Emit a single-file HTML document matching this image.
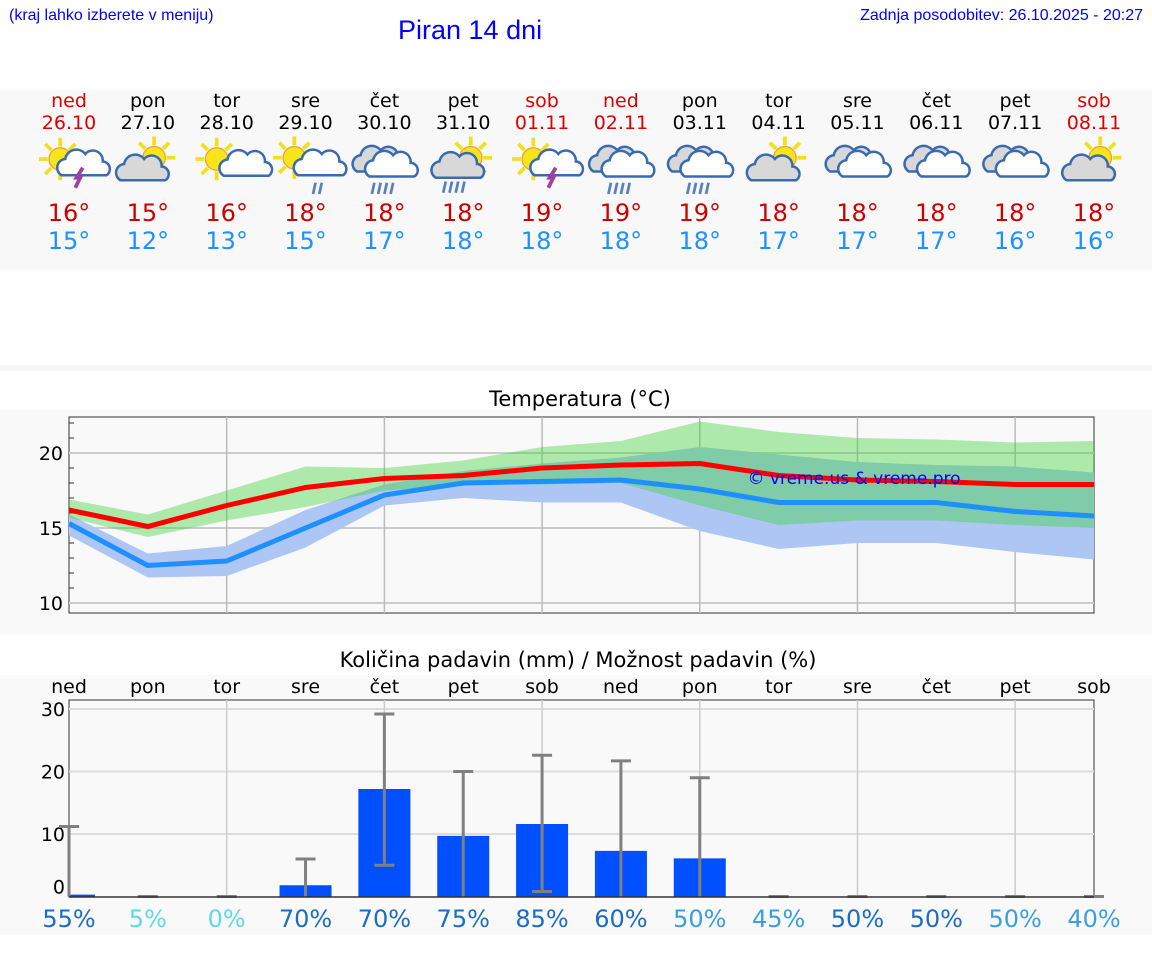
<!DOCTYPE html>
<html><head><meta charset="utf-8"><style>
body{margin:0;width:1152px;height:975px;background:#fff;font-family:"DejaVu Sans","Liberation Sans",sans-serif;position:relative;overflow:hidden}
.a{position:absolute}
</style></head><body>
<div class="a" style="left:9px;top:7px;font-size:16px;color:#00f;font-family:'Liberation Sans',sans-serif">(kraj lahko izberete v meniju)</div>
<div class="a" style="left:398px;top:15px;font-size:27px;color:#00f;font-family:'Liberation Sans',sans-serif">Piran 14 dni</div>
<div class="a" style="right:9px;top:7px;font-size:16px;color:#00f;font-family:'Liberation Sans',sans-serif">Zadnja posodobitev: 26.10.2025 - 20:27</div>
<div class="a" style="left:0;top:90px;width:1152px;height:180px;background:#f8f8f8"></div>
<div class="a" style="left:0;top:365px;width:1152px;height:6px;background:#f6f6f6"></div>
<div class="a" style="left:0;top:410px;width:1152px;height:225px;background:#f9f9f9"></div>
<div class="a" style="left:0;top:675px;width:1152px;height:260px;background:#f9f9f9"></div>
<div class="a" style="left:0;width:1160px;top:387px;text-align:center;font-size:21px">Temperatura (°C)</div>
<div class="a" style="left:0;width:1156px;top:648px;text-align:center;font-size:21px">Količina padavin (mm) / Možnost padavin (%)</div>
<svg class="a" style="left:0;top:0" width="1152" height="975" id="svg"></svg>
<script>
const days=["ned","pon","tor","sre","čet","pet","sob","ned","pon","tor","sre","čet","pet","sob"];
const dates=["26.10","27.10","28.10","29.10","30.10","31.10","01.11","02.11","03.11","04.11","05.11","06.11","07.11","08.11"];
const icons=["tstorm","pcloud","pcloud2","rainsun","rain","rainsun2","tstorm2","rain","rain","pcloud","cloud","cloud","cloud","pcloud"];
const hiTemps=[16,15,16,18,18,18,19,19,19,18,18,18,18,18];
const loTemps=[15,12,13,15,17,18,18,18,18,17,17,17,16,16];
const tMax=[16.2,15.1,16.5,17.7,18.3,18.5,19.0,19.2,19.3,18.5,18.2,18.1,17.9,17.9];
const tMaxHi=[16.9,15.9,17.5,19.1,19.0,19.5,20.4,20.8,22.1,21.4,21.0,20.9,20.7,20.8];
const tMaxLo=[15.7,14.4,15.5,16.4,17.5,17.9,17.9,18.0,16.5,15.2,15.5,15.5,15.2,15.0];
const tMin=[15.3,12.5,12.8,15.0,17.2,18.0,18.1,18.2,17.6,16.7,16.7,16.7,16.1,15.8];
const tMinHi=[15.9,13.3,13.8,16.2,17.9,18.8,19.3,19.7,20.4,19.9,19.4,19.2,19.1,18.7];
const tMinLo=[14.5,11.7,11.8,13.7,16.5,17.0,16.7,16.7,14.8,13.6,14.0,14.0,13.4,12.9];
const tTicks=[10,15,20];
const precip=[0.3,0,0,1.8,17.2,9.7,11.6,7.3,6.1,0,0,0,0,0];
const errLo=[0,0,0,0,5,0,0.8,0,0,0,0,0,0,0];
const errHi=[11.2,0,0,6,29.2,20,22.6,21.7,19,0,0,0,0,0];
const pTicks=[0,10,20,30];
const probs=[55,5,0,70,70,75,85,60,50,45,50,50,50,40];
const probDark=[1,0,0,1,1,1,1,1,0,0,1,1,0,0];
const svg=document.getElementById('svg');const NS='http://www.w3.org/2000/svg';
function mk(t,at,p){const e=document.createElementNS(NS,t);for(const k in at)e.setAttribute(k,at[k]);(p||svg).appendChild(e);return e;}
const X=i=>69+i*(1094-69)/13;
const TY=v=>453-(v-20)*15;
const PY=v=>896.5-v*6.25;
days.forEach((d,i)=>{const red=(d==="ned"||d==="sob");
 let t=mk('text',{x:X(i),y:107,'text-anchor':'middle','font-size':19,fill:red?'#d00':'#000'});t.textContent=d;
 
 t=mk('text',{x:X(i),y:129,'text-anchor':'middle','font-size':19,fill:red?'#d00':'#000'});t.textContent=dates[i];
 
 t=mk('text',{x:X(i),y:221,'text-anchor':'middle','font-size':24,fill:'#c00'});t.textContent=hiTemps[i]+'°';
 
 t=mk('text',{x:X(i),y:249,'text-anchor':'middle','font-size':24,fill:'#1e90ff'});t.textContent=loTemps[i]+'°';
 
 const g=mk('g',{transform:`translate(${X(i)},164) scale(1.25)`});
 
 const ic=icons[i];
 const sun=(cx,cy)=>{for(let k=0;k<8;k++){const a=k*Math.PI/4;mk('line',{x1:cx+Math.cos(a)*10,y1:cy+Math.sin(a)*10,x2:cx+Math.cos(a)*17,y2:cy+Math.sin(a)*17,stroke:'#f0e020','stroke-width':3},g);}mk('circle',{cx,cy,r:9,fill:'#f5e51a',stroke:'#f0a030','stroke-width':1},g);};
 const cloud=(cx,cy,s,fill)=>{mk('path',{d:`M${cx-18*s},${cy+8*s} a7 7 0 0 1 3,-13 a9 9 0 0 1 16,-4 a8 8 0 0 1 14,6 a6 6 0 0 1 3,11 z`,fill:fill,stroke:'#3a6ab0','stroke-width':2},g);};
 const rain=(cx,cy,n)=>{for(let k=0;k<n;k++)mk('line',{x1:cx+k*5,y1:cy,x2:cx+k*5-2,y2:cy+9,stroke:'#5a80c0','stroke-width':2.2},g);};
 if(ic==='tstorm'||ic==='tstorm2'){sun(-7,-4);cloud(12,1,1,'#fff');mk('path',{d:'M11,3 L6,11 L9,11 L5,19',stroke:'#a040a0','stroke-width':3,fill:'none'},g);}
 else if(ic==='pcloud'){sun(5,-5);cloud(-4,5,1,'#d8d8d8');}
 else if(ic==='pcloud2'){sun(-8,-4);cloud(12,3,0.8,'#fff');}
 else if(ic==='rainsun'){sun(-9,-5);cloud(12,1,1,'#fff');rain(8,15,2);}
 else if(ic==='rainsun2'){sun(6,-5);cloud(-4,3,1,'#d8d8d8');rain(-14,14,4);}
 else if(ic==='rain'){cloud(-4,-2,1,'#d8d8d8');cloud(6,2,1,'#fff');rain(-8,15,4);}
 else {cloud(-4,-2,1,'#d8d8d8');cloud(6,2,1,'#fff');}
});
mk('rect',{x:69,y:417,width:1025,height:196,fill:'#f9f9f9',stroke:'#333','stroke-width':1});
for(let v=10;v<=22;v++){mk('line',{x1:69,x2:74,y1:TY(v),y2:TY(v),stroke:'#333'});}
tTicks.forEach(v=>{mk('line',{x1:69,x2:1094,y1:TY(v),y2:TY(v),stroke:'#ccc','stroke-width':2});const t=mk('text',{x:63,y:TY(v)+7,'text-anchor':'end','font-size':19});t.textContent=v;
 });
for(let i=2;i<13;i+=2)mk('line',{x1:X(i),x2:X(i),y1:417,y2:613,stroke:'#bbb','stroke-width':1.5});
function band(hi,lo,fill,op,name){let d='M'+hi.map((v,i)=>X(i)+','+TY(v)).join(' L')+' L'+lo.map((v,i)=>X(i)+','+TY(v)).reverse().join(' L')+'Z';const p=mk('path',{d,fill,'fill-opacity':op});
 }
band(tMinHi,tMinLo,'#aec6f4',1,'min-temp-band');
band(tMaxHi,tMaxLo,'rgb(59,209,54)',0.4,'max-temp-band');
function line(a,c,name){const p=mk('polyline',{points:a.map((v,i)=>X(i)+','+TY(v)).join(' '),fill:'none',stroke:c,'stroke-width':5});
 }
line(tMin,'#1e8fff','min-temp-line');line(tMax,'#f00','max-temp-line');
let wm=mk('text',{x:854,y:484,'text-anchor':'middle','font-size':17,fill:'#00f'});wm.textContent='© vreme.us & vreme.pro';

mk('rect',{x:69,y:700,width:1025,height:197,fill:'#f9f9f9',stroke:'#333','stroke-width':1});
pTicks.forEach(v=>{if(v>0)mk('line',{x1:69,x2:1094,y1:PY(v),y2:PY(v),stroke:'#ddd','stroke-width':2});const t=mk('text',{x:65,y:PY(v)+(v===0?-3:7),'text-anchor':'end','font-size':19});t.textContent=v;
 });
for(let i=2;i<13;i+=2)mk('line',{x1:X(i),x2:X(i),y1:700,y2:897,stroke:'#ccc','stroke-width':1.5});
days.forEach((d,i)=>{let t=mk('text',{x:X(i),y:693,'text-anchor':'middle','font-size':19});t.textContent=d;
 
 if(precip[i]>0){let x0=X(i)-26,w=52;if(i===0){x0=X(0);w=26;}
  const r=mk('rect',{x:x0,y:PY(precip[i]),width:w,height:PY(0)-PY(precip[i]),fill:'#0050ff'});
  }
 const g=mk('g',{stroke:'#808080','stroke-width':3});
 
 mk('line',{x1:X(i),x2:X(i),y1:PY(errLo[i]),y2:PY(errHi[i])},g);
 mk('line',{x1:X(i)-10,x2:X(i)+10,y1:PY(errHi[i]),y2:PY(errHi[i])},g);
 if(errLo[i]>0)mk('line',{x1:X(i)-10,x2:X(i)+10,y1:PY(errLo[i]),y2:PY(errLo[i])},g);
 t=mk('text',{x:X(i),y:927,'text-anchor':'middle','font-size':24,fill:probs[i]<10?'#5fd8e8':(probDark[i]?'#1a6cc4':'#3a9ee0')});t.textContent=probs[i]+'%';
 
});
mk('line',{x1:69,x2:1094,y1:897,y2:897,stroke:'#333','stroke-width':1.5});
</script>
</body></html>
